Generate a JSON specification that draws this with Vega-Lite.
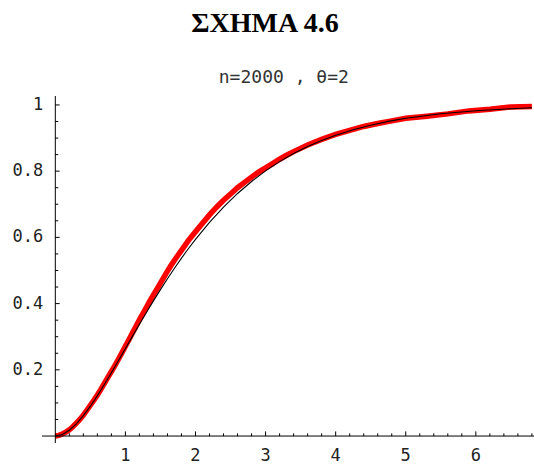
{
  "$schema": "https://vega.github.io/schema/vega-lite/v6.json",
  "width": 492,
  "height": 347,
  "autosize": "none",
  "padding": {"left": 42, "top": 96, "right": 0, "bottom": 23},
  "background": "white",
  "config": {"view": {"stroke": null}},
  "title": {
    "text": "ΣΧΗΜΑ 4.6",
    "font": "Liberation Serif",
    "fontSize": 28,
    "fontWeight": "bold",
    "color": "black",
    "anchor": "middle",
    "dx": -23,
    "offset": 31
  },
  "datasets": {
    "empirical": [
      {"x": 0, "F": 0}, {"x": 0.05, "F": 0.002}, {"x": 0.1, "F": 0.006}, {"x": 0.15, "F": 0.012},
      {"x": 0.2, "F": 0.019}, {"x": 0.25, "F": 0.028}, {"x": 0.3, "F": 0.039}, {"x": 0.35, "F": 0.05},
      {"x": 0.4, "F": 0.063}, {"x": 0.45, "F": 0.078}, {"x": 0.5, "F": 0.093}, {"x": 0.55, "F": 0.108},
      {"x": 0.6, "F": 0.124}, {"x": 0.65, "F": 0.141}, {"x": 0.7, "F": 0.159}, {"x": 0.75, "F": 0.177},
      {"x": 0.8, "F": 0.195}, {"x": 0.85, "F": 0.213}, {"x": 0.9, "F": 0.232}, {"x": 0.95, "F": 0.251},
      {"x": 1.0, "F": 0.271}, {"x": 1.05, "F": 0.291}, {"x": 1.1, "F": 0.311}, {"x": 1.15, "F": 0.331},
      {"x": 1.2, "F": 0.351}, {"x": 1.25, "F": 0.37}, {"x": 1.3, "F": 0.389}, {"x": 1.35, "F": 0.408},
      {"x": 1.4, "F": 0.426}, {"x": 1.45, "F": 0.444}, {"x": 1.5, "F": 0.462}, {"x": 1.55, "F": 0.48},
      {"x": 1.6, "F": 0.498}, {"x": 1.65, "F": 0.515}, {"x": 1.7, "F": 0.531}, {"x": 1.75, "F": 0.546},
      {"x": 1.8, "F": 0.561}, {"x": 1.85, "F": 0.576}, {"x": 1.9, "F": 0.591}, {"x": 1.95, "F": 0.604},
      {"x": 2.0, "F": 0.617}, {"x": 2.1, "F": 0.643}, {"x": 2.2, "F": 0.668}, {"x": 2.3, "F": 0.691},
      {"x": 2.4, "F": 0.712}, {"x": 2.5, "F": 0.731}, {"x": 2.6, "F": 0.75}, {"x": 2.7, "F": 0.766},
      {"x": 2.8, "F": 0.782}, {"x": 2.9, "F": 0.797}, {"x": 3.0, "F": 0.81}, {"x": 3.1, "F": 0.823},
      {"x": 3.2, "F": 0.836}, {"x": 3.3, "F": 0.848}, {"x": 3.4, "F": 0.859}, {"x": 3.6, "F": 0.879},
      {"x": 3.8, "F": 0.896}, {"x": 4.0, "F": 0.911}, {"x": 4.2, "F": 0.923}, {"x": 4.4, "F": 0.935},
      {"x": 4.6, "F": 0.944}, {"x": 4.8, "F": 0.952}, {"x": 5.0, "F": 0.96}, {"x": 5.3, "F": 0.966},
      {"x": 5.6, "F": 0.973}, {"x": 5.9, "F": 0.982}, {"x": 6.2, "F": 0.987}, {"x": 6.5, "F": 0.994},
      {"x": 6.8, "F": 0.995}
    ],
    "model": [
      {"x": 0, "F": 0}, {"x": 0.1, "F": 0.0047}, {"x": 0.2, "F": 0.0175}, {"x": 0.3, "F": 0.0369},
      {"x": 0.4, "F": 0.0616}, {"x": 0.5, "F": 0.0902}, {"x": 0.6, "F": 0.1219}, {"x": 0.7, "F": 0.1558},
      {"x": 0.8, "F": 0.1912}, {"x": 0.9, "F": 0.2275}, {"x": 1.0, "F": 0.2642}, {"x": 1.1, "F": 0.301},
      {"x": 1.2, "F": 0.3374}, {"x": 1.3, "F": 0.3732}, {"x": 1.4, "F": 0.4082}, {"x": 1.5, "F": 0.4422},
      {"x": 1.6, "F": 0.4751}, {"x": 1.7, "F": 0.5068}, {"x": 1.8, "F": 0.5372}, {"x": 1.9, "F": 0.5663},
      {"x": 2.0, "F": 0.594}, {"x": 2.2, "F": 0.6454}, {"x": 2.4, "F": 0.6916}, {"x": 2.6, "F": 0.7326},
      {"x": 2.8, "F": 0.7689}, {"x": 3.0, "F": 0.8009}, {"x": 3.2, "F": 0.8288}, {"x": 3.4, "F": 0.8532},
      {"x": 3.6, "F": 0.8743}, {"x": 3.8, "F": 0.8926}, {"x": 4.0, "F": 0.9084}, {"x": 4.25, "F": 0.9251},
      {"x": 4.5, "F": 0.9389}, {"x": 4.75, "F": 0.9503}, {"x": 5.0, "F": 0.9596}, {"x": 5.5, "F": 0.9734},
      {"x": 6.0, "F": 0.9826}, {"x": 6.5, "F": 0.9887}, {"x": 6.8, "F": 0.9913}
    ],
    "origin": [{"v": 0}],
    "plotLabel": [{"label": "n=2000 , θ=2"}],
    "yMajor": [
      {"v": 0.2, "label": "0.2"}, {"v": 0.4, "label": "0.4"}, {"v": 0.6, "label": "0.6"},
      {"v": 0.8, "label": "0.8"}, {"v": 1, "label": "1"}
    ],
    "yMinor": [
      {"v": 0.05}, {"v": 0.1}, {"v": 0.15}, {"v": 0.25}, {"v": 0.3}, {"v": 0.35},
      {"v": 0.45}, {"v": 0.5}, {"v": 0.55}, {"v": 0.65}, {"v": 0.7}, {"v": 0.75},
      {"v": 0.85}, {"v": 0.9}, {"v": 0.95}
    ],
    "xMajor": [
      {"v": 1, "label": "1"}, {"v": 2, "label": "2"}, {"v": 3, "label": "3"},
      {"v": 4, "label": "4"}, {"v": 5, "label": "5"}, {"v": 6, "label": "6"}
    ],
    "xMinor": [
      {"v": 0.2}, {"v": 0.4}, {"v": 0.6}, {"v": 0.8}, {"v": 1.2}, {"v": 1.4}, {"v": 1.6}, {"v": 1.8},
      {"v": 2.2}, {"v": 2.4}, {"v": 2.6}, {"v": 2.8}, {"v": 3.2}, {"v": 3.4}, {"v": 3.6}, {"v": 3.8},
      {"v": 4.2}, {"v": 4.4}, {"v": 4.6}, {"v": 4.8}, {"v": 5.2}, {"v": 5.4}, {"v": 5.6}, {"v": 5.8},
      {"v": 6.2}, {"v": 6.4}, {"v": 6.6}, {"v": 6.8}
    ]
  },
  "layer": [
    {
      "data": {"name": "empirical"},
      "mark": {"type": "line", "color": "#ff0000", "strokeWidth": 5.5},
      "encoding": {
        "x": {
          "field": "x", "type": "quantitative",
          "scale": {"domain": [-0.19, 6.83], "nice": false, "zero": false},
          "axis": null
        },
        "y": {
          "field": "F", "type": "quantitative",
          "scale": {"domain": [-0.021, 1.027], "nice": false, "zero": false},
          "axis": null
        }
      }
    },
    {
      "data": {"name": "model"},
      "mark": {"type": "line", "color": "black", "strokeWidth": 1.1},
      "encoding": {
        "x": {"field": "x", "type": "quantitative", "axis": null},
        "y": {"field": "F", "type": "quantitative", "axis": null}
      }
    },
    {
      "data": {"name": "origin"},
      "mark": {"type": "rule", "color": "black", "strokeWidth": 1},
      "encoding": {"y": {"field": "v", "type": "quantitative", "axis": null}}
    },
    {
      "data": {"name": "origin"},
      "mark": {"type": "rule", "color": "black", "strokeWidth": 1},
      "encoding": {"x": {"field": "v", "type": "quantitative", "axis": null}}
    },
    {
      "data": {"name": "yMajor"},
      "mark": {"type": "rule", "color": "black", "strokeWidth": 1},
      "encoding": {
        "x": {"datum": 0, "type": "quantitative", "axis": null},
        "x2": {"datum": 0.062},
        "y": {"field": "v", "type": "quantitative", "axis": null}
      }
    },
    {
      "data": {"name": "yMinor"},
      "mark": {"type": "rule", "color": "black", "strokeWidth": 1},
      "encoding": {
        "x": {"datum": 0, "type": "quantitative", "axis": null},
        "x2": {"datum": 0.042},
        "y": {"field": "v", "type": "quantitative", "axis": null}
      }
    },
    {
      "data": {"name": "xMajor"},
      "mark": {"type": "rule", "color": "black", "strokeWidth": 1},
      "encoding": {
        "x": {"field": "v", "type": "quantitative", "axis": null},
        "y": {"datum": 0, "type": "quantitative", "axis": null},
        "y2": {"datum": 0.014}
      }
    },
    {
      "data": {"name": "xMinor"},
      "mark": {"type": "rule", "color": "black", "strokeWidth": 1},
      "encoding": {
        "x": {"field": "v", "type": "quantitative", "axis": null},
        "y": {"datum": 0, "type": "quantitative", "axis": null},
        "y2": {"datum": 0.008}
      }
    },
    {
      "data": {"name": "yMajor"},
      "mark": {"type": "text", "align": "right", "baseline": "middle", "dx": -12, "font": "DejaVu Sans Mono", "fontSize": 17, "color": "#222222"},
      "encoding": {
        "x": {"datum": 0, "type": "quantitative", "axis": null},
        "y": {"field": "v", "type": "quantitative", "axis": null},
        "text": {"field": "label"}
      }
    },
    {
      "data": {"name": "xMajor"},
      "mark": {"type": "text", "align": "center", "baseline": "middle", "dy": 20, "font": "DejaVu Sans Mono", "fontSize": 17, "color": "#222222"},
      "encoding": {
        "x": {"field": "v", "type": "quantitative", "axis": null},
        "y": {"datum": 0, "type": "quantitative", "axis": null},
        "text": {"field": "label"}
      }
    },
    {
      "data": {"name": "plotLabel"},
      "mark": {"type": "text", "align": "center", "baseline": "alphabetic", "font": "DejaVu Sans Mono", "fontSize": 18, "color": "#333333"},
      "encoding": {
        "x": {"datum": 3.26, "type": "quantitative", "axis": null},
        "y": {"datum": 1.066, "type": "quantitative", "axis": null},
        "text": {"field": "label"}
      }
    }
  ]
}
